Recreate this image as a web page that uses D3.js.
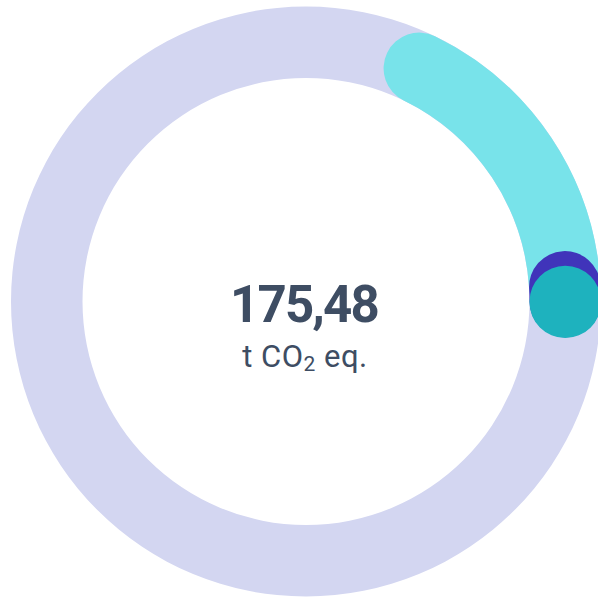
<!DOCTYPE html>
<html>
<head>
<meta charset="utf-8">
<script src="https://cdn.jsdelivr.net/npm/d3@7"></script>
<style>
  html, body { margin: 0; padding: 0; background: #fff; }
  svg { display: block; }
</style>
</head>
<body>
<div id="chart"></div>
<script>
// share of the ring (percent) taken by each segment, in drawing order
const segmentNames = ["Segment A", "Segment B", "Segment C"];
const segmentValues = [16.9, 0.9, 0.05];
const segmentColors = ["#78e3ea", "#4034ba", "#1eb2be"];
const startOffset = 7.2;

const totalValue = "175,48";
const unitLabel = ["t CO", "2", " eq."];

const width = 598, height = 599;
const cx = 306, cy = 301.5;
const outerR = 295, innerR = 223.5;
const midR = (outerR + innerR) / 2;
const thickness = outerR - innerR;

const svg = d3.select("#chart")
  .append("svg")
  .attr("width", width)
  .attr("height", height);

const angle = d3.scaleLinear()
  .domain([0, 100])
  .range([0, 2 * Math.PI]);

const g = svg.append("g")
  .attr("transform", "translate(" + cx + "," + cy + ")");

// background ring
g.append("path")
  .attr("d", d3.arc()
    .innerRadius(innerR)
    .outerRadius(outerR)
    .startAngle(0)
    .endAngle(2 * Math.PI)())
  .attr("fill", "#d3d6f1");

// stack the segments
let acc = startOffset;
const segs = segmentValues.map(function(v, i) {
  const s = { name: segmentNames[i], start: acc, end: acc + v, color: segmentColors[i] };
  acc += v;
  return s;
});

function arcStroke(d) {
  const p = d3.path();
  const a0 = angle(d.start) - Math.PI / 2;
  const a1 = angle(d.end) - Math.PI / 2;
  p.moveTo(midR * Math.cos(a0), midR * Math.sin(a0));
  p.arc(0, 0, midR, a0, a1, false);
  return p.toString();
}

g.selectAll(".seg")
  .data(segs)
  .enter()
  .append("path")
  .attr("class", "seg")
  .attr("d", arcStroke)
  .attr("fill", "none")
  .attr("stroke", function(d) { return d.color; })
  .attr("stroke-width", thickness)
  .attr("stroke-linecap", "round");

// centre labels
g.append("text")
  .attr("x", -2)
  .attr("y", 20)
  .attr("text-anchor", "middle")
  .attr("font-family", "Roboto, sans-serif")
  .attr("font-weight", 700)
  .attr("font-size", 51)
  .attr("letter-spacing", -1.8)
  .attr("fill", "#3e4d63")
  .text(totalValue);

const unit = g.append("text")
  .attr("x", -1)
  .attr("y", 65)
  .attr("text-anchor", "middle")
  .attr("font-family", "Roboto, sans-serif")
  .attr("font-size", 31)
  .attr("letter-spacing", 0.5)
  .attr("fill", "#3e4d63");

unit.append("tspan").text(unitLabel[0]);
unit.append("tspan").attr("font-size", 21).attr("dy", 4).text(unitLabel[1]);
unit.append("tspan").attr("dy", -4).text(unitLabel[2]);
</script>
</body>
</html>
